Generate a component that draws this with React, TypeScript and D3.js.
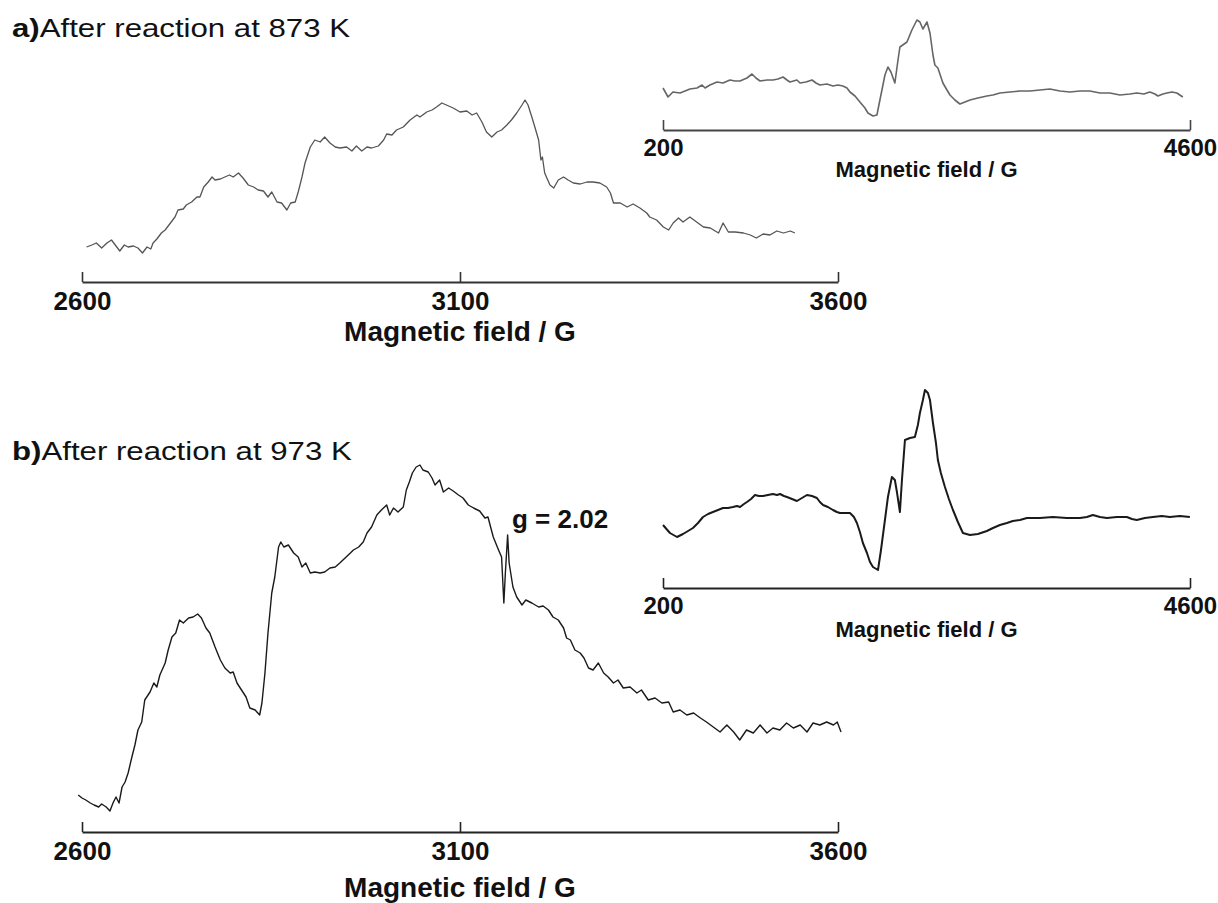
import { useEffect, useRef } from "react";
import * as d3 from "d3";

type Pt = [number, number]; // [magnetic field (G), intensity (a.u.)]

const mainDomain: [number, number] = [2600, 3600];
const wideDomain: [number, number] = [200, 4600];
const mainTicks = [2600, 3100, 3600];
const wideTicks = [200, 4600];

const axisTitle = "Magnetic field / G";
const gLabel = "g = 2.02";

// a) after reaction at 873 K, narrow sweep
const spectrum873: Pt[] = [
  [2606, 35], [2613, 37], [2619, 39], [2626, 34], [2633, 39], [2639, 42], [2646, 35], [2650, 31],
  [2656, 37], [2661, 35], [2668, 36], [2674, 34], [2680, 29], [2686, 35], [2691, 33], [2694, 39],
  [2699, 43], [2705, 49], [2710, 52], [2716, 58], [2723, 65], [2727, 72], [2734, 73], [2738, 77],
  [2745, 80], [2752, 85], [2756, 85], [2761, 95], [2767, 100], [2772, 105], [2776, 102], [2783, 103],
  [2789, 105], [2795, 107], [2800, 105], [2807, 109], [2813, 104], [2820, 97], [2827, 95], [2833, 92],
  [2840, 91], [2846, 85], [2851, 90], [2858, 80], [2864, 79], [2871, 72], [2876, 79], [2882, 80],
  [2886, 90], [2891, 105], [2895, 119], [2902, 135], [2908, 142], [2915, 140], [2921, 145], [2928, 139],
  [2935, 135], [2941, 134], [2950, 135], [2957, 131], [2963, 136], [2970, 131], [2977, 135], [2983, 134],
  [2992, 136], [2999, 142], [3003, 148], [3010, 147], [3016, 152], [3025, 155], [3034, 162], [3043, 167],
  [3047, 165], [3056, 170], [3063, 172], [3069, 175], [3076, 179], [3082, 177], [3091, 174], [3100, 170],
  [3109, 171], [3116, 167], [3122, 169], [3129, 160], [3135, 150], [3142, 145], [3149, 150], [3155, 152],
  [3162, 157], [3168, 162], [3175, 169], [3182, 177], [3186, 182], [3190, 177], [3195, 165], [3199, 155],
  [3204, 142], [3207, 122], [3209, 125], [3212, 109], [3219, 97], [3224, 94], [3230, 102], [3237, 105],
  [3243, 102], [3250, 99], [3259, 98], [3268, 100], [3276, 100], [3285, 99], [3294, 95], [3299, 89],
  [3303, 79], [3312, 79], [3321, 75], [3329, 78], [3338, 74], [3347, 69], [3351, 65], [3360, 62],
  [3369, 55], [3376, 52], [3382, 59], [3389, 64], [3395, 60], [3404, 65], [3413, 60], [3422, 55],
  [3431, 54], [3442, 49], [3448, 59], [3455, 50], [3464, 50], [3475, 49], [3484, 47], [3492, 44],
  [3501, 48], [3510, 47], [3519, 51], [3528, 49], [3537, 51], [3543, 49],
];

// a) inset, wide sweep
const spectrum873Wide: Pt[] = [
  [200, 42], [242, 33], [283, 38], [342, 37], [384, 39], [425, 41], [484, 42], [526, 45], [551, 42],
  [592, 45], [651, 48], [701, 47], [759, 50], [801, 49], [843, 49], [901, 52], [943, 56], [976, 52],
  [1010, 49], [1068, 50], [1118, 50], [1160, 51], [1202, 53], [1235, 50], [1260, 48], [1318, 50],
  [1344, 47], [1394, 48], [1444, 50], [1477, 47], [1510, 45], [1569, 46], [1619, 44], [1661, 45],
  [1702, 44], [1736, 42], [1761, 38], [1803, 34], [1844, 28], [1886, 22], [1911, 17], [1953, 14],
  [1986, 15], [2011, 30], [2028, 40], [2053, 55], [2078, 63], [2103, 58], [2136, 47], [2162, 70],
  [2178, 83], [2237, 88], [2278, 100], [2320, 110], [2345, 108], [2370, 101], [2404, 108], [2429, 97],
  [2454, 75], [2470, 65], [2495, 62], [2537, 47], [2571, 40], [2596, 35], [2637, 30], [2679, 26],
  [2721, 28], [2763, 30], [2829, 32], [2904, 34], [2955, 35], [3013, 37], [3096, 38], [3180, 39],
  [3263, 39], [3347, 40], [3430, 41], [3514, 39], [3597, 38], [3681, 39], [3764, 39], [3848, 37],
  [3931, 37], [4015, 35], [4098, 36], [4156, 37], [4215, 36], [4265, 38], [4307, 36], [4332, 34],
  [4374, 36], [4407, 37], [4449, 38], [4490, 37], [4540, 33],
];

// b) after reaction at 973 K, narrow sweep
const spectrum973: Pt[] = [
  [2595, 37], [2600, 34], [2605, 32], [2611, 29], [2616, 27], [2622, 25], [2626, 28], [2632, 25],
  [2637, 21], [2641, 29], [2645, 35], [2649, 29], [2653, 45], [2657, 50], [2661, 59], [2666, 75],
  [2670, 87], [2674, 102], [2679, 110], [2683, 132], [2690, 140], [2695, 149], [2699, 145], [2703, 157],
  [2710, 169], [2714, 182], [2719, 195], [2724, 199], [2729, 212], [2734, 209], [2741, 214], [2747, 215],
  [2753, 218], [2758, 214], [2764, 204], [2769, 199], [2776, 185], [2783, 172], [2789, 164], [2796, 159],
  [2800, 160], [2805, 149], [2811, 142], [2817, 135], [2822, 124], [2829, 122], [2835, 117], [2838, 129],
  [2842, 159], [2846, 199], [2851, 239], [2855, 255], [2860, 285], [2863, 290], [2867, 285], [2873, 287],
  [2880, 279], [2886, 275], [2891, 265], [2896, 269], [2902, 259], [2908, 260], [2915, 259], [2921, 260],
  [2928, 264], [2935, 265], [2941, 269], [2948, 274], [2955, 279], [2959, 282], [2966, 285], [2972, 290],
  [2977, 299], [2983, 305], [2990, 317], [2996, 322], [3003, 327], [3007, 317], [3012, 324], [3018, 320],
  [3025, 325], [3029, 342], [3033, 350], [3037, 359], [3042, 365], [3047, 367], [3051, 362], [3058, 360],
  [3063, 354], [3067, 347], [3073, 352], [3078, 340], [3085, 344], [3091, 341], [3098, 337], [3104, 334],
  [3111, 327], [3118, 324], [3126, 321], [3133, 314], [3137, 315], [3144, 295], [3151, 282], [3155, 275],
  [3158, 229], [3160, 259], [3163, 297], [3165, 269], [3170, 245], [3175, 235], [3182, 227], [3187, 232],
  [3195, 229], [3204, 225], [3210, 226], [3217, 222], [3223, 215], [3230, 212], [3237, 204], [3241, 194],
  [3246, 192], [3252, 182], [3259, 179], [3264, 174], [3270, 164], [3276, 162], [3283, 169], [3290, 159],
  [3296, 155], [3303, 149], [3309, 152], [3316, 144], [3325, 145], [3334, 139], [3340, 142], [3349, 132],
  [3358, 134], [3367, 129], [3376, 130], [3382, 120], [3391, 122], [3400, 117], [3409, 119], [3418, 114],
  [3426, 110], [3435, 105], [3444, 100], [3453, 107], [3462, 100], [3470, 92], [3479, 102], [3488, 99],
  [3497, 107], [3506, 99], [3514, 104], [3523, 102], [3532, 109], [3541, 104], [3550, 107], [3559, 100],
  [3567, 109], [3576, 107], [3585, 110], [3594, 107], [3599, 110], [3604, 100],
];

// b) inset, wide sweep
const spectrum973Wide: Pt[] = [
  [200, 63], [258, 55], [317, 51], [367, 54], [409, 57], [450, 60], [492, 65], [534, 71], [576, 74],
  [617, 76], [659, 78], [701, 80], [743, 80], [784, 81], [818, 82], [843, 81], [876, 84], [901, 86],
  [935, 89], [968, 93], [1001, 92], [1035, 92], [1076, 93], [1118, 94], [1152, 93], [1177, 94],
  [1210, 92], [1235, 91], [1277, 89], [1318, 87], [1360, 90], [1402, 93], [1444, 92], [1485, 90],
  [1510, 86], [1536, 83], [1577, 81], [1619, 78], [1652, 76], [1677, 75], [1719, 75], [1761, 75],
  [1794, 71], [1819, 65], [1844, 56], [1869, 45], [1903, 35], [1928, 26], [1953, 21], [1995, 18],
  [2020, 38], [2053, 68], [2078, 91], [2111, 111], [2136, 108], [2153, 96], [2178, 76], [2195, 108],
  [2220, 148], [2262, 150], [2303, 151], [2328, 163], [2345, 175], [2370, 188], [2387, 198], [2412, 195],
  [2429, 188], [2454, 165], [2479, 145], [2495, 128], [2520, 115], [2554, 101], [2587, 89], [2621, 78],
  [2662, 66], [2704, 55], [2763, 53], [2829, 54], [2904, 57], [2955, 60], [3013, 63], [3071, 65],
  [3121, 67], [3180, 68], [3238, 70], [3347, 70], [3455, 71], [3572, 70], [3681, 70], [3739, 71],
  [3789, 73], [3848, 71], [3906, 70], [3990, 71], [4073, 71], [4115, 69], [4156, 68], [4223, 70],
  [4290, 71], [4365, 72], [4432, 71], [4515, 72], [4599, 71],
];

const FONT = "'Liberation Sans', Arial, Helvetica, sans-serif";

type PanelOpts = {
  data: Pt[];
  domain: [number, number];
  ticks: number[];
  left: number;
  right: number;
  axisY: number;
  color: string;
  lineWidth: number;
  axisColor: string;
  tickSize: number;
  tickPad: number;
  labelSize: number;
  labelY: number;
};

function drawPanel(svg: d3.Selection<SVGSVGElement, unknown, null, undefined>, o: PanelOpts) {
  const x = d3.scaleLinear().domain(o.domain).range([o.left, o.right]);
  // 1 intensity unit = 1 px above the axis line
  const y = d3.scaleLinear().domain([0, 100]).range([o.axisY, o.axisY - 100]);

  const line = d3
    .line<Pt>()
    .x((d) => x(d[0]))
    .y((d) => y(d[1]));

  svg
    .append("path")
    .datum(o.data)
    .attr("d", line)
    .attr("fill", "none")
    .attr("stroke", o.color)
    .attr("stroke-width", o.lineWidth)
    .attr("stroke-linejoin", "round");

  const axis = d3
    .axisBottom(x)
    .tickValues(o.ticks)
    .tickSizeInner(-10)
    .tickSizeOuter(0)
    .tickPadding(o.tickPad)
    .tickFormat(d3.format("d"));

  const g = svg
    .append("g")
    .attr("transform", `translate(0,${o.axisY})`)
    .call(axis)
    .attr("font-family", FONT)
    .attr("font-size", o.tickSize)
    .attr("font-weight", "bold");

  g.select(".domain").attr("stroke", o.axisColor).attr("stroke-width", 2);
  g.selectAll(".tick line").attr("stroke", o.axisColor).attr("stroke-width", 1.6);
  g.selectAll(".tick text").attr("fill", "#111");

  svg
    .append("text")
    .attr("x", (o.left + o.right) / 2)
    .attr("y", o.labelY)
    .attr("text-anchor", "middle")
    .attr("font-family", FONT)
    .attr("font-size", o.labelSize)
    .attr("font-weight", "bold")
    .attr("fill", "#111")
    .text(axisTitle);
}

function drawTitle(
  svg: d3.Selection<SVGSVGElement, unknown, null, undefined>,
  tag: string,
  text: string,
  yPos: number
) {
  const t = svg
    .append("text")
    .attr("transform", `translate(12,${yPos}) scale(1.2,1)`)
    .attr("font-family", FONT)
    .attr("font-size", 26)
    .attr("fill", "#111");
  t.append("tspan").attr("font-weight", "bold").text(tag);
  t.append("tspan").text(text);
}

export default function App() {
  const svgRef = useRef<SVGSVGElement>(null);

  useEffect(() => {
    const svg = d3.select(svgRef.current as SVGSVGElement);
    svg.selectAll("*").remove();

    drawTitle(svg, "a)", "After reaction at 873 K", 37);
    drawTitle(svg, "b)", "After reaction at 973 K", 460);

    drawPanel(svg, {
      data: spectrum873, domain: mainDomain, ticks: mainTicks, left: 82, right: 838, axisY: 282,
      color: "#555", lineWidth: 1.3, axisColor: "#333", tickSize: 26, tickPad: 10,
      labelSize: 28, labelY: 341,
    });
    drawPanel(svg, {
      data: spectrum873Wide, domain: wideDomain, ticks: wideTicks, left: 663, right: 1190, axisY: 130,
      color: "#666", lineWidth: 1.6, axisColor: "#444", tickSize: 24, tickPad: 9,
      labelSize: 22, labelY: 177,
    });
    drawPanel(svg, {
      data: spectrum973, domain: mainDomain, ticks: mainTicks, left: 82, right: 838, axisY: 832,
      color: "#1a1a1a", lineWidth: 1.4, axisColor: "#222", tickSize: 26, tickPad: 10,
      labelSize: 28, labelY: 897,
    });
    drawPanel(svg, {
      data: spectrum973Wide, domain: wideDomain, ticks: wideTicks, left: 663, right: 1190, axisY: 588,
      color: "#1a1a1a", lineWidth: 2, axisColor: "#222", tickSize: 24, tickPad: 9,
      labelSize: 22, labelY: 637,
    });

    svg
      .append("text")
      .attr("x", 512)
      .attr("y", 528)
      .attr("font-family", FONT)
      .attr("font-size", 26)
      .attr("font-weight", "bold")
      .attr("fill", "#111")
      .text(gLabel);
  }, []);

  return (
    <svg
      ref={svgRef}
      width={1218}
      height={903}
      style={{ position: "absolute", left: 0, top: 0, background: "#fff" }}
    />
  );
}
